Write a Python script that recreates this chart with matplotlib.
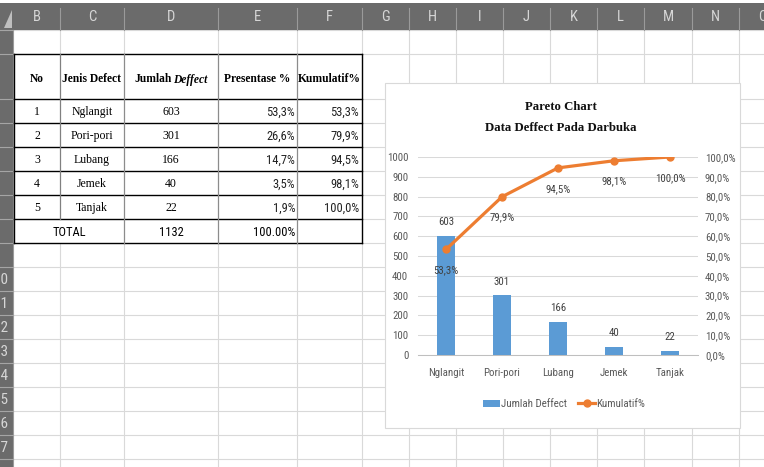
import matplotlib
matplotlib.use('Agg')
import matplotlib.pyplot as plt
from matplotlib import font_manager as fm
from matplotlib.patches import Rectangle, Polygon

# ---------------- data ----------------
categories = ['Nglangit', 'Pori-pori', 'Lubang', 'Jemek', 'Tanjak']
jumlah = [603, 301, 166, 40, 22]
presentase = [53.3, 26.6, 14.7, 3.5, 1.9]
kumulatif = [53.3, 79.9, 94.5, 98.1, 100.0]
total_jumlah = 1132
total_pct_label = '100.00%'
total_label = 'TOTAL'
table_headers = ['No', 'Jenis Defect', 'Jumlah Deffect', 'Presentase %', 'Kumulatif%']
series_names = ['Jumlah Deffect', 'Kumulatif%']
col_letters = ['B', 'C', 'D', 'E', 'F', 'G', 'H', 'I', 'J', 'K', 'L', 'M', 'N', 'O']
row_numbers_visible = [10, 11, 12, 13, 14, 15, 16, 17]
left_ticks = list(range(0, 1001, 100))
right_ticks = list(range(0, 101, 10))
chart_title = 'Pareto Chart\nData Deffect Pada Darbuka'

# ---------------- fonts ----------------
cond_path = None
cond_scale = 0.85
pref = ['Liberation Sans Narrow', 'Roboto Condensed', 'Open Sans Condensed',
        'Noto Sans Condensed', 'DejaVu Sans Condensed']
ttf = fm.fontManager.ttflist
for p in pref:
    hits = [f for f in ttf if f.name == p and f.style == 'normal'
            and f.weight in (400, 'normal', 'regular')]
    if hits:
        cond_path = hits[0].fname
        cond_scale = 1.0
        break
if cond_path is None:
    for fam in ['Noto Sans', 'Open Sans', 'Roboto', 'DejaVu Sans']:
        hits = [f for f in ttf if f.name == fam and f.style == 'normal'
                and f.weight in (400, 'normal', 'regular')
                and f.stretch in ('condensed', 'semi-condensed', 'extra-condensed')]
        if hits:
            cond_path = hits[0].fname
            cond_scale = 0.95
            break


def NF(size):
    if cond_path:
        return fm.FontProperties(fname=cond_path, size=size * cond_scale)
    return fm.FontProperties(family='Liberation Sans', size=size * cond_scale)


SERIF = 'Liberation Serif'


def pct(v):
    return f'{v:.1f}%'.replace('.', ',')


W, H = 764, 467
fig = plt.figure(figsize=(W / 100, H / 100), dpi=100)
fig.patch.set_facecolor('white')
bg = fig.add_axes([0, 0, 1, 1])
bg.set_xlim(0, W)
bg.set_ylim(H, 0)
bg.axis('off')

# sheet geometry (pixels)
col_edges = [14, 60, 124, 218, 297, 362, 409, 456, 503, 550, 597, 644, 692, 739, 786]
row_edges = [30, 54, 99, 123, 147, 171, 195, 219, 243, 267, 291, 315, 339, 363, 387,
             411, 435, 459, 483]
grid_c = '#d9d9d9'

for x in col_edges[1:]:
    bg.plot([x, x], [30, H], color=grid_c, lw=0.8, zorder=1)
for y in row_edges:
    bg.plot([13, W], [y, y], color=grid_c, lw=0.8, zorder=1)

# header bar + row strip
hdr_c = '#6b6b6b'
bg.add_patch(Rectangle((0, 3), W, 27, facecolor=hdr_c, edgecolor='none', zorder=3))
bg.add_patch(Rectangle((0, 30), 13, H - 30, facecolor=hdr_c, edgecolor='none', zorder=3))
bg.add_patch(Polygon([(4, 28), (12, 28), (12, 10)], closed=True, facecolor='#bfbfbf',
                     edgecolor='none', zorder=4))
for x in col_edges[1:]:
    bg.plot([x, x], [8, 30], color='#9a9a9a', lw=0.8, zorder=4)
bg.plot([13, 13], [30, H], color='#9a9a9a', lw=0.8, zorder=4)
for y in row_edges:
    bg.plot([0, 13], [y, y], color='#a5a5a5', lw=0.8, zorder=4)
for i, letter in enumerate(col_letters):
    cx = (col_edges[i] + col_edges[i + 1]) / 2
    bg.text(cx, 17, letter, ha='center', va='center', color='#d6d6d6',
            fontproperties=NF(10.5), zorder=5)
for r in row_numbers_visible:
    cy = (row_edges[r - 1] + row_edges[r]) / 2
    bg.text(1.5, cy + 1, str(r), ha='center', va='center', color='#d6d6d6',
            fontproperties=NF(11), zorder=5)

# ---------------- table ----------------
tx0, tx1 = col_edges[0], col_edges[5]
ty0, ty1 = row_edges[1], row_edges[8]
bg.add_patch(Rectangle((tx0, ty0), tx1 - tx0, ty1 - ty0, facecolor='white',
                       edgecolor='none', zorder=2))
for y in row_edges[1:9]:
    bg.plot([tx0, tx1], [y, y], color='black', lw=1.0, zorder=6)
bg.plot([tx0, tx0], [ty0, ty1], color='black', lw=1.0, zorder=6)
bg.plot([tx1, tx1], [ty0, ty1], color='black', lw=1.0, zorder=6)
bg.plot([col_edges[1]] * 2, [ty0, row_edges[7]], color='#808080', lw=0.9, zorder=6)
for x in col_edges[2:5]:
    bg.plot([x, x], [ty0, ty1], color='#8c8c8c', lw=0.9, zorder=6)

hy = (row_edges[1] + row_edges[2]) / 2 + 3
centers = [(col_edges[i] + col_edges[i + 1]) / 2 for i in range(5)]
for i, h in enumerate(table_headers):
    if i == 2:
        continue
    bg.text(centers[i], hy, h, ha='center', va='center', fontsize=8.3,
            family=SERIF, weight='bold', zorder=7)
# mixed style header "Jumlah *Deffect*"
p1, p2 = table_headers[2].split(' ')
t1 = bg.text(0, hy, p1, ha='left', va='center', fontsize=8.3, family=SERIF,
             weight='bold', zorder=7)
t2 = bg.text(0, hy, p2, ha='left', va='center', fontsize=8.3, family=SERIF,
             weight='bold', style='italic', zorder=7)
rend = fig.canvas.get_renderer()
w1 = t1.get_window_extent(rend).width
w2 = t2.get_window_extent(rend).width
gap = 2
start = centers[2] - (w1 + gap + w2) / 2
t1.set_x(start)
t2.set_x(start + w1 + gap)

for k in range(len(categories)):
    cy = (row_edges[2 + k] + row_edges[3 + k]) / 2 + 1
    bg.text(centers[0], cy, str(k + 1), ha='center', va='center', fontsize=8.5,
            family=SERIF, zorder=7)
    bg.text(centers[1], cy, categories[k], ha='center', va='center', fontsize=8.5,
            family=SERIF, zorder=7)
    bg.text(centers[2], cy, str(jumlah[k]), ha='center', va='center', fontsize=8.5,
            family=SERIF, zorder=7)
    bg.text(col_edges[4] - 2, cy, pct(presentase[k]), ha='right', va='center',
            fontproperties=NF(9), color='#222222', zorder=7)
    bg.text(col_edges[5] - 3, cy, pct(kumulatif[k]), ha='right', va='center',
            fontproperties=NF(9), color='#222222', zorder=7)
cy = (row_edges[7] + row_edges[8]) / 2 + 1
bg.text((col_edges[0] + col_edges[2]) / 2, cy, total_label, ha='center', va='center',
        fontproperties=NF(9), zorder=7)
bg.text(centers[2], cy, str(total_jumlah), ha='center', va='center',
        fontproperties=NF(9), zorder=7)
bg.text(col_edges[4] - 2, cy, total_pct_label, ha='right', va='center',
        fontproperties=NF(9), zorder=7)

# ---------------- chart box ----------------
cb_x0, cb_y0, cb_x1, cb_y1 = 385, 83, 740, 428
bg.add_patch(Rectangle((cb_x0, cb_y0), cb_x1 - cb_x0, cb_y1 - cb_y0, facecolor='white',
                       edgecolor='#d9d9d9', lw=0.8, zorder=8))

title_lines = chart_title.split('\n')
fig.text(561 / W, 1 - 107 / H, title_lines[0], ha='center', va='center',
         fontsize=9.2, family=SERIF, weight='bold', color='#111111')
fig.text(561 / W, 1 - 128 / H, title_lines[1], ha='center', va='center',
         fontsize=9.2, family=SERIF, weight='bold', color='#111111')

px0, px1, py_top, py_bot = 418, 698, 157, 355
ax = fig.add_axes([px0 / W, (H - py_bot) / H, (px1 - px0) / W, (py_bot - py_top) / H])
ax.patch.set_visible(False)
x = list(range(len(categories)))
bars = ax.bar(x, jumlah, width=0.31, color='#5B9BD5', zorder=2, label=series_names[0])
ax.set_xlim(-0.5, len(categories) - 0.5)
ax.set_ylim(0, 1000)
ax.set_yticks(left_ticks)
ax.set_yticklabels([str(t) for t in left_ticks])
ax.yaxis.grid(True, color='#D9D9D9', lw=0.75)
ax.set_axisbelow(True)
for s in ['top', 'left', 'right']:
    ax.spines[s].set_visible(False)
ax.spines['bottom'].set_color('#BFBFBF')
ax.spines['bottom'].set_linewidth(0.75)
ax.set_xticks(x)
ax.set_xticklabels(categories)
ax.tick_params(axis='y', length=0, pad=7, labelcolor='#595959')
ax.tick_params(axis='x', length=0, pad=9, labelcolor='#595959')
for lab in ax.get_xticklabels() + ax.get_yticklabels():
    lab.set_fontproperties(NF(7.8))
for i, v in enumerate(jumlah):
    ax.annotate(str(v), (i, v), xytext=(0, 10), textcoords='offset points', ha='center',
                va='center', fontproperties=NF(7.8), color='#404040')

ax2 = ax.twinx()
ax2.set_ylim(0, 100)
ax2.set_yticks(right_ticks)
ax2.set_yticklabels([pct(t) for t in right_ticks])
for s in ax2.spines.values():
    s.set_visible(False)
ax2.tick_params(axis='y', length=0, pad=5, labelcolor='#595959')
for lab in ax2.get_yticklabels():
    lab.set_fontproperties(NF(7.8))
line, = ax2.plot(x, kumulatif, color='#ED7D31', lw=2.3, marker='o', ms=5,
                 label=series_names[1], zorder=3)
for i, v in enumerate(kumulatif):
    ax2.annotate(pct(v), (i, v), xytext=(0, -15), textcoords='offset points', ha='center',
                 va='center', fontproperties=NF(7.8), color='#404040')

leg = fig.legend([bars, line], series_names, loc='center',
                 bbox_to_anchor=(564 / W, 1 - 404 / H), ncol=2, frameon=False,
                 prop=NF(7.8),
                 handlelength=1.6, handleheight=0.6, handletextpad=0.1, columnspacing=1.0,
                 labelcolor='#595959')

fig.savefig('out.png', dpi=100)
